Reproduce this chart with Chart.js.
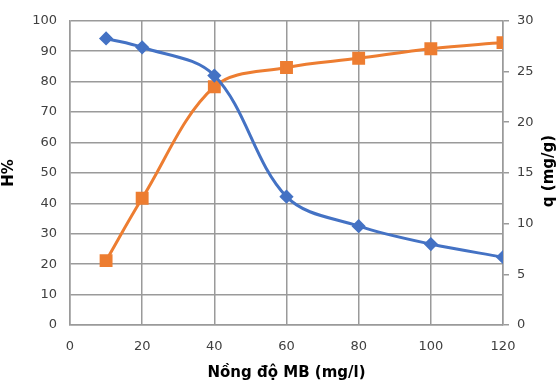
<!DOCTYPE html>
<html>
<head>
<meta charset="utf-8">
<script src="https://cdn.jsdelivr.net/npm/chart.js@4"></script>
<style>
  html, body { margin: 0; padding: 0; background: #fff; }
  #wrap { width: 560px; height: 382px; }
</style>
</head>
<body>
<div id="wrap"><canvas id="chart" width="560" height="382"></canvas></div>
<script>
const concentration = [10, 20, 40, 60, 80, 100, 120];
const hPercent = [94.2, 91.3, 82.0, 42.2, 32.5, 26.6, 22.3];
const qValues = [6.35, 12.5, 23.5, 25.4, 26.3, 27.25, 27.85];

const grid = "#9a9a9a";
const tickColor = "#404040";
const font = "'DejaVu Sans', sans-serif";

// right-side title reads bottom-to-top, so draw it ourselves
const rightTitle = {
  id: "rightTitle",
  afterDraw(chart) {
    const ctx = chart.ctx;
    ctx.save();
    ctx.translate(549, 171);
    ctx.rotate(-Math.PI / 2);
    ctx.font = "bold 15px " + font;
    ctx.fillStyle = "#000";
    ctx.textAlign = "center";
    ctx.textBaseline = "middle";
    ctx.fillText("q (mg/g)", 0, 0);
    ctx.restore();
  },
};

new Chart(document.getElementById("chart"), {
  type: "line",
  data: {
    datasets: [
      {
        label: "H%",
        data: concentration.map((x, i) => ({ x, y: hPercent[i] })),
        yAxisID: "y",
        borderColor: "#4472C4",
        backgroundColor: "#4472C4",
        borderWidth: 3,
        pointStyle: "rectRot",
        pointRadius: 5,
        tension: 0.35,
      },
      {
        label: "q",
        data: concentration.map((x, i) => ({ x, y: qValues[i] })),
        yAxisID: "y1",
        borderColor: "#ED7D31",
        backgroundColor: "#ED7D31",
        borderWidth: 3,
        pointStyle: "rect",
        pointRadius: 7,
        tension: 0.35,
      },
    ],
  },
  options: {
    responsive: false,
    animation: false,
    layout: { padding: { top: 15, left: 0, right: 0, bottom: 0 } },
    plugins: { legend: { display: false }, tooltip: { enabled: false } },
    scales: {
      x: {
        type: "linear",
        min: 0,
        max: 120,
        afterFit: (s) => { s.height = 57; },
        ticks: { stepSize: 20, color: tickColor, font: { family: font, size: 13 }, padding: 14 },
        grid: { color: grid, lineWidth: 1.5, drawTicks: false },
        border: { color: grid, width: 1.5 },
        title: { display: true, text: "Nồng độ MB (mg/l)", color: "#000", font: { family: font, size: 15, weight: "bold" }, padding: { top: 4, bottom: 0 } },
      },
      y: {
        position: "left",
        min: 0,
        max: 100,
        afterFit: (s) => { s.width = 70; },
        ticks: { stepSize: 10, color: tickColor, font: { family: font, size: 13 }, padding: 13 },
        grid: { color: grid, lineWidth: 1.5, drawTicks: false },
        border: { color: grid, width: 1.5 },
        title: { display: true, text: "H%", color: "#000", font: { family: font, size: 15, weight: "bold" }, padding: { top: 0, bottom: 0 } },
      },
      y1: {
        position: "right",
        min: 0,
        max: 30,
        afterFit: (s) => { s.width = 57; },
        ticks: { stepSize: 5, color: tickColor, font: { family: font, size: 13 }, padding: 8 },
        grid: { drawOnChartArea: false, color: grid, lineWidth: 1.5, tickLength: 6 },
        border: { color: grid, width: 1.5 },
      },
    },
  },
  plugins: [rightTitle],
});
</script>
</body>
</html>
